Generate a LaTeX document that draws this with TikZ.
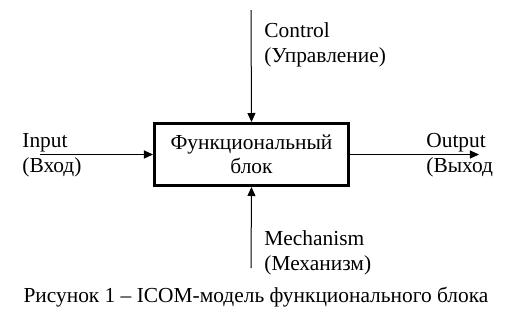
\documentclass[tikz,border=0pt]{standalone}
\usepackage{fontspec}
\setmainfont{Liberation Serif}
\usetikzlibrary{arrows.meta,positioning}

\begin{document}
\begin{tikzpicture}[x=0.5pt,y=-0.5pt,
block/.style={rectangle, draw, line width=1.5pt, minimum width=97pt, minimum height=31pt, align=center, inner sep=0pt, font=\fontsize{10.7}{12}\selectfont},
lbl/.style={anchor=west, align=left, inner sep=0pt, font=\fontsize{10.7}{12.5}\selectfont},
arrow/.style={-{Triangle[length=4.5pt,width=4pt]}, line width=0.5pt}
]
\useasboundingbox (0,0) rectangle (511,318);

% Functional block
\node[block] (func) at (251.5,154.5) {Функциональный\\блок};

% Free ends of the arrows
\coordinate (ctrl_end) at (251,10);
\coordinate (mech_end) at (251,268);
\coordinate (in_end) at (40,154.5);
\coordinate (out_end) at (479,154.5);

% Labels
\node[lbl] (ctrl_lbl) at (264,45) {Control\\(Управление)};
\node[lbl] (in_lbl) at (22,155.5) {Input\\(Вход)};
\node[lbl] (out_lbl) at (426,155.5) {Output\\(Выход};
\node[lbl] (mech_lbl) at (264,253) {Mechanism\\(Механизм)};

% Caption
\node[font=\fontsize{10.7}{12}\selectfont, inner sep=0pt] (caption) at (256,297) {Рисунок 1 – ICOM-модель функционального блока};

% Connections
\draw[arrow] (ctrl_end) -- (func.north);
\draw[arrow] (mech_end) -- (func.south);
\draw[arrow] (in_end) -- (func.west);
\draw[arrow] (func.east) -- (out_end);

\end{tikzpicture}
\end{document}
